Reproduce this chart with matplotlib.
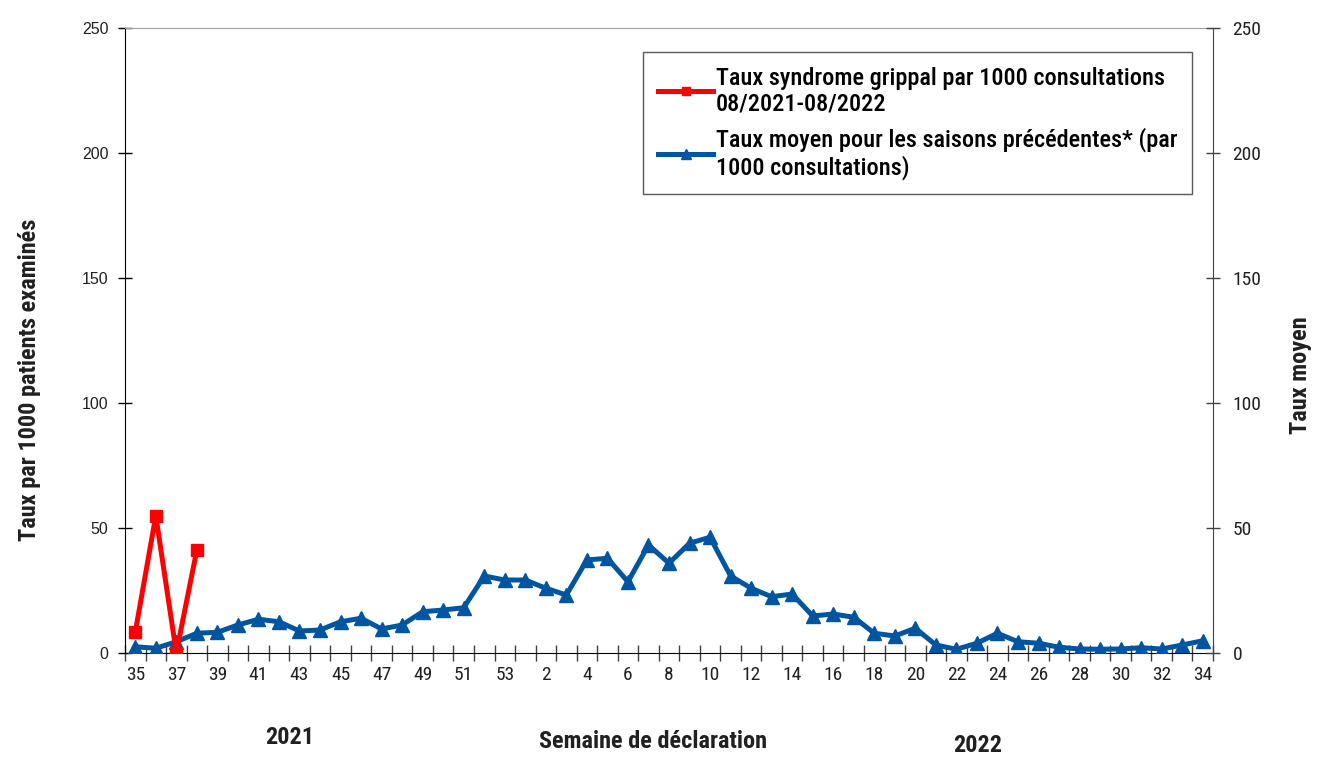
import matplotlib
matplotlib.use("Agg")
import matplotlib.pyplot as plt
from matplotlib.ticker import FixedLocator
import numpy as np

weeks = [35, 36, 37, 38, 39, 40, 41, 42, 43, 44, 45, 46, 47, 48, 49, 50, 51, 52, 53,
         1, 2, 3, 4, 5, 6, 7, 8, 9, 10, 11, 12, 13, 14, 15, 16, 17, 18, 19, 20,
         21, 22, 23, 24, 25, 26, 27, 28, 29, 30, 31, 32, 33, 34]

taux_moyen = [2.5, 1.9, 4.5, 7.9, 8.3, 11.2, 13.5, 12.5, 8.8, 9.2, 12.5, 13.9, 9.6, 11.2,
              16.5, 17.2, 18.1, 30.8, 29.2,
              29.2, 25.9, 23.2, 37.2, 37.9, 28.5, 43.2, 35.9, 43.9, 46.3, 30.8, 25.9, 22.5,
              23.6, 14.8, 15.6, 14.3, 7.9, 6.8, 9.9, 3.2, 1.5, 3.9, 7.9, 4.5, 3.9, 2.3,
              1.6, 1.5, 1.6, 2.1, 1.6, 3.2, 4.9]

taux_grippal = [8.3, 54.9, 0.1, 41.2]

label_grippal = "Taux syndrome grippal par 1000 consultations\n08/2021-08/2022"
label_moyen = "Taux moyen pour les saisons précédentes* (par\n1000 consultations)"

NARROW = ['Roboto Condensed', 'Liberation Sans', 'DejaVu Sans']
plt.rcParams['font.family'] = NARROW

fig = plt.figure(figsize=(13.18, 7.58), dpi=100)
ax = fig.add_axes([125/1318, 1-653/758, (1213-125)/1318, (653-28)/758])

x = np.arange(len(weeks))
xr = np.arange(len(taux_grippal))

blue = '#0055a0'
red = '#ff0000'
l2, = ax.plot(x, taux_moyen, color=blue, lw=3.6, marker='^', ms=9.5, zorder=3)
l1, = ax.plot(xr, taux_grippal, color=red, lw=3.6, marker='s', ms=9, zorder=4)

ax.set_xlim(-0.5, len(weeks) - 0.5)
ax.set_ylim(0, 250)
ax.set_yticks([0, 50, 100, 150, 200, 250])

# x ticks at category boundaries, labels at centers
ax.xaxis.set_major_locator(FixedLocator(np.arange(-0.5, len(weeks), 1.0)))
ax.xaxis.set_major_formatter(plt.NullFormatter())
ax.xaxis.set_minor_locator(FixedLocator(x[::2]))
ax.set_xticklabels([str(w) for w in weeks[::2]], minor=True)
ax.tick_params(axis='x', which='major', direction='inout', length=12, width=1, color='#404040')
ax.tick_params(axis='x', which='minor', length=0, pad=9, labelsize=14, labelcolor='#202020')
ax.tick_params(axis='y', which='major', direction='inout', length=10, width=1, pad=7,
               labelsize=11.5, labelcolor='#202020')
for t in ax.get_yticklabels():
    t.set_family(['Liberation Sans', 'DejaVu Sans'])

ax.spines['top'].set_color('#a0a0a0')
ax.spines['left'].set_color('black')
ax.spines['bottom'].set_color('black')
ax.spines['right'].set_visible(False)

ax2 = ax.twinx()
ax2.set_ylim(0, 250)
ax2.set_yticks([0, 50, 100, 150, 200, 250])
ax2.tick_params(axis='y', direction='inout', length=10, width=1, pad=9, labelsize=14,
                labelcolor='#202020', color='#404040')
ax2.spines['right'].set_color('#404040')
for s in ['top', 'left', 'bottom']:
    ax2.spines[s].set_visible(False)

TS = 17.5
fig.text(30/1318, 1-380/758, "Taux par 1000 patients examinés", rotation=90, ha='center',
         va='center', fontsize=TS, fontweight='bold', color='#202020')
fig.text(1300/1318, 1-375/758, "Taux moyen", rotation=90, ha='center', va='center',
         fontsize=TS, fontweight='bold', color='#202020')
fig.text(290/1318, 1-737/758, "2021", ha='center', va='center', fontsize=TS,
         fontweight='bold', color='#202020')
fig.text(653/1318, 1-742/758, "Semaine de déclaration", ha='center', va='center',
         fontsize=TS, fontweight='bold', color='#202020')
fig.text(978/1318, 1-745/758, "2022", ha='center', va='center', fontsize=TS,
         fontweight='bold', color='#202020')

leg = ax.legend([l1, l2], [label_grippal, label_moyen], loc='upper left',
                bbox_to_anchor=((643-125)/1088, (653-52)/625), fontsize=17.5,
                frameon=True, fancybox=False, shadow=False, handlelength=2.3,
                handletextpad=0.1, borderpad=0.6, labelspacing=0.5, borderaxespad=0,
                markerscale=0.7)
leg.get_frame().set_edgecolor('#303030')
leg.get_frame().set_linewidth(1.0)
for t in leg.get_texts():
    t.set_color('#000000')
    t.set_fontweight(500)
    t.set_linespacing(1.15)

fig.savefig('out.png', dpi=100)
